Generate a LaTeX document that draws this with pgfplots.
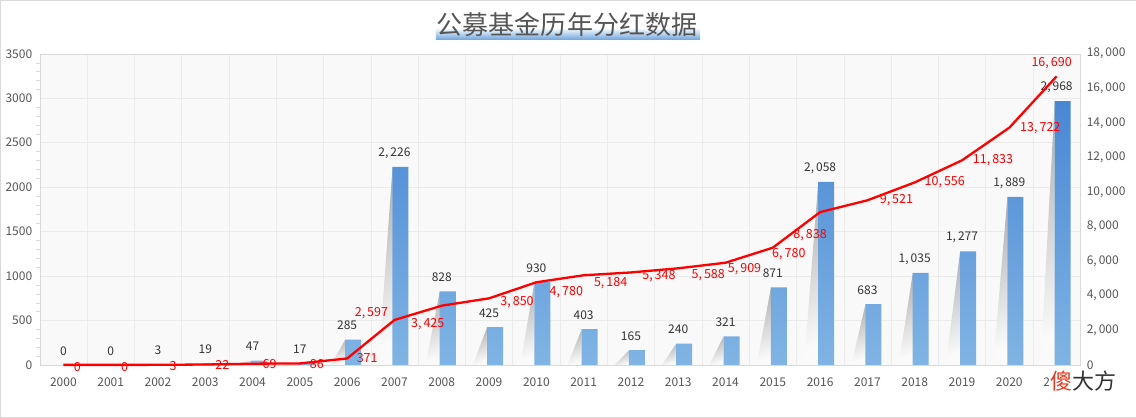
\documentclass[border=0pt]{standalone}
\usepackage{fontspec}
\setmainfont{Noto Sans CJK SC}
\usepackage{pgfplots}
\usepackage{pgfplotstable}
\pgfplotsset{compat=1.18}
\definecolor{barTop}{HTML}{4A87D3}
\definecolor{barBot}{HTML}{80B4E4}
\definecolor{tickc}{HTML}{555555}
\definecolor{lblc}{HTML}{333333}
\definecolor{gridc}{HTML}{EBEBEB}
\definecolor{bgc}{HTML}{F9F9F9}
\definecolor{framec}{HTML}{D9D9D9}
\definecolor{wm}{HTML}{E8391E}

\pgfplotstableread{
x v
0 0
1 0
2 3
3 19
4 47
5 17
6 285
7 2226
8 828
9 425
10 930
11 403
12 165
13 240
14 321
15 871
16 2058
17 683
18 1035
19 1277
20 1889
21 2968
}\bars

\pgfplotstableread{
x v dx dy
0 0 14 -2
1 0 14 -2
2 3 15 -1
3 22 17 0
4 69 17 0
5 86 17 -1
6 371 20 0
7 2597 -23 7
8 3425 -14 -18
9 3850 28 -3.5
10 4780 30 -10
11 5184 27 -8
12 5348 28 -4
13 5588 30 -7
14 5909 19 -6
15 6780 16 -6
16 8838 -10 -23
17 9521 29 0
18 10556 30 0
19 11833 31 0
20 13722 31 0
21 16690 -5 13
}\cum

\begin{document}
\begin{tikzpicture}
\draw[framec] (0.5pt,0.5pt) rectangle (1135.5pt,417.5pt);
\shade[top color=white, bottom color={rgb,255:red,110;green,165;blue,222}] (436pt,378pt) rectangle (700pt,390pt);
\node[font=\fontsize{26}{30}\selectfont, text=tickc] at (567pt,393pt) {公募基金历年分红数据};

\begin{axis}[
  at={(40pt,53pt)}, anchor=south west, scale only axis,
  width=1040pt, height=311pt,
  xmin=-0.5, xmax=21.5, ymin=0, ymax=3500,
  xtick={0,...,21},
  xticklabels={2000,2001,2002,2003,2004,2005,2006,2007,2008,2009,2010,2011,2012,2013,2014,2015,2016,2017,2018,2019,2020,2021},
  minor xtick={0.5,1.5,...,20.5}, xminorgrids,
  ytick={0,500,...,3500}, ymajorgrids, minor y tick num=4,
  ytick pos=left, xtick pos=bottom,
  axis background/.style={fill=bgc},
  axis line style={framec},
  grid style={gridc}, minor grid style={gridc},
  major tick length=0pt, minor tick length=4pt, tick align=outside,
  minor tick style={framec}, minor x tick style={draw=none},
  ticklabel style={font=\fontsize{12}{14}\selectfont, text=tickc},
  /pgf/number format/assume math mode=true,
  /pgf/number format/1000 sep={},
  xticklabel style={yshift=-9pt},
  yticklabel style={xshift=-4pt},
  clip=false,
  shadow/.style={draw=none, shading=axis, top color=black!30, bottom color=black!2, shading angle=20},
]
\addplot[shadow] coordinates {(1.66,0) (1.96,3) (1.96,0)} -- cycle;
\addplot[shadow] coordinates {(2.66,0) (2.96,19) (2.96,0)} -- cycle;
\addplot[shadow] coordinates {(3.66,0) (3.96,47) (3.96,0)} -- cycle;
\addplot[shadow] coordinates {(4.66,0) (4.96,17) (4.96,0)} -- cycle;
\addplot[shadow] coordinates {(5.66,0) (5.96,285) (5.96,0)} -- cycle;
\addplot[shadow] coordinates {(6.66,0) (6.96,2226) (6.96,0)} -- cycle;
\addplot[shadow] coordinates {(7.66,0) (7.96,828) (7.96,0)} -- cycle;
\addplot[shadow] coordinates {(8.66,0) (8.96,425) (8.96,0)} -- cycle;
\addplot[shadow] coordinates {(9.66,0) (9.96,930) (9.96,0)} -- cycle;
\addplot[shadow] coordinates {(10.66,0) (10.96,403) (10.96,0)} -- cycle;
\addplot[shadow] coordinates {(11.66,0) (11.96,165) (11.96,0)} -- cycle;
\addplot[shadow] coordinates {(12.66,0) (12.96,240) (12.96,0)} -- cycle;
\addplot[shadow] coordinates {(13.66,0) (13.96,321) (13.96,0)} -- cycle;
\addplot[shadow] coordinates {(14.66,0) (14.96,871) (14.96,0)} -- cycle;
\addplot[shadow] coordinates {(15.66,0) (15.96,2058) (15.96,0)} -- cycle;
\addplot[shadow] coordinates {(16.66,0) (16.96,683) (16.96,0)} -- cycle;
\addplot[shadow] coordinates {(17.66,0) (17.96,1035) (17.96,0)} -- cycle;
\addplot[shadow] coordinates {(18.66,0) (18.96,1277) (18.96,0)} -- cycle;
\addplot[shadow] coordinates {(19.66,0) (19.96,1889) (19.96,0)} -- cycle;
\addplot[shadow] coordinates {(20.66,0) (20.96,2968) (20.96,0)} -- cycle;
\addplot[ybar, bar width=16pt, bar shift=6pt, draw=none, top color=barTop, bottom color=barBot]
  table[x=x, y=v]{\bars};
\addplot[draw=none, no markers,
  nodes near coords={\pgfmathprintnumber[1000 sep={,\hspace{2pt}}]{\pgfplotspointmeta}},
  every node near coord/.style={anchor=center, yshift=14pt, text=lblc, font=\fontsize{12}{14}\selectfont, /pgf/number format/assume math mode=true}]
  table[x=x, y=v]{\bars};
\end{axis}

\begin{axis}[
  at={(40pt,53pt)}, anchor=south west, scale only axis,
  width=1040pt, height=311pt,
  xmin=-0.5, xmax=21.5, ymin=0, ymax=18000,
  axis y line*=right, axis x line=none,
  y axis line style={draw=none},
  ytick={0,2000,...,18000}, major tick length=0pt,
  scaled y ticks=false,
  ticklabel style={font=\fontsize{12}{14}\selectfont, text=tickc},
  /pgf/number format/assume math mode=true,
  /pgf/number format/1000 sep={,\hspace{2pt}},
  yticklabel style={xshift=3pt},
  clip=false,
]
\addplot[color=red, line width=2.3pt, line join=round, no markers,
  visualization depends on={\thisrow{dx}\as\dx},
  visualization depends on={\thisrow{dy}\as\dy},
  nodes near coords={\pgfmathprintnumber[1000 sep={,\hspace{2pt}}]{\pgfplotspointmeta}},
  every node near coord/.style={anchor=center, xshift=\dx pt, yshift=\dy pt, text=red, font=\fontsize{12.5}{14}\selectfont, /pgf/number format/assume math mode=true}]
  table[x=x, y=v]{\cum};
\end{axis}

\node[fill=white, inner sep=1pt, font=\fontsize{22}{26}\selectfont] at (1083pt,37pt) {\textcolor{wm}{傻}\textcolor{lblc}{大方}};
\end{tikzpicture}
\end{document}
